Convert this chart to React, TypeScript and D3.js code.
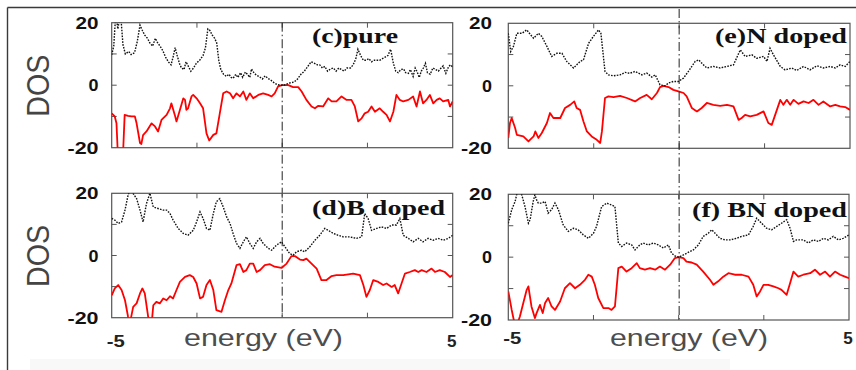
import React from 'react';
import * as d3 from 'd3';

type Pt = [number, number];

// (c) pure — spin up (black dotted) and spin down (red)
const pureUp: Pt[] = [[-5,9.7],[-4.94,12.5],[-4.88,23],[-4.82,18],[-4.74,23],[-4.67,13],[-4.6,10],[-4.5,10.8],[-4.43,9.8],[-4.33,10.4],[-4.25,14],[-4.17,19.2],[-4.1,17.5],[-4.03,16],[-3.95,15],[-3.88,13.5],[-3.8,12.5],[-3.72,15],[-3.65,13.5],[-3.58,12.5],[-3.5,11],[-3.42,9],[-3.34,7.5],[-3.26,6.5],[-3.2,9],[-3.14,12],[-3.08,9.5],[-3.0,6.5],[-2.95,5.5],[-2.88,5],[-2.82,7.5],[-2.75,6],[-2.68,4.5],[-2.6,5.5],[-2.52,7],[-2.42,8],[-2.32,9.5],[-2.25,12],[-2.18,18],[-2.12,17.5],[-2.05,16],[-1.98,15],[-1.92,13.5],[-1.86,8],[-1.8,5],[-1.72,3.5],[-1.64,2.8],[-1.56,3.5],[-1.5,2.5],[-1.44,2.2],[-1.36,3.5],[-1.3,2.5],[-1.22,4],[-1.16,2.5],[-1.08,4.2],[-1.02,3.5],[-0.95,2.5],[-0.9,5.2],[-0.82,3.8],[-0.75,3.2],[-0.68,2.8],[-0.58,2],[-0.5,3],[-0.42,2.2],[-0.32,1.5],[-0.24,0.8],[-0.15,0.2],[-0.05,0],[0.05,0],[0.15,0.4],[0.25,0.8],[0.35,1],[0.45,2],[0.55,3.5],[0.65,4.5],[0.75,6],[0.85,7.5],[0.95,7],[1.03,6.5],[1.1,6.5],[1.18,5.5],[1.25,6],[1.33,4.5],[1.42,5.2],[1.5,5.5],[1.58,4.5],[1.66,5.5],[1.74,5],[1.82,4.5],[1.9,5.5],[2.0,5.5],[2.08,6.5],[2.16,8.5],[2.22,11.5],[2.3,9.5],[2.38,8],[2.46,8],[2.54,8.5],[2.62,7.5],[2.7,8],[2.78,8],[2.86,8],[2.94,8.5],[3.02,9],[3.1,9.5],[3.18,11.5],[3.26,7],[3.33,4.5],[3.4,4],[3.48,5],[3.56,5.2],[3.62,4],[3.7,3.8],[3.76,5],[3.84,2.8],[3.9,5.5],[3.96,4.2],[4.02,2.5],[4.08,4.5],[4.14,5.5],[4.2,7],[4.26,4],[4.34,3.5],[4.42,5.5],[4.5,5],[4.58,4.5],[4.66,5.5],[4.72,6.2],[4.8,3.8],[4.88,6],[4.94,6.5],[5,5.8]];
const pureDown: Pt[] = [[-5,-9],[-4.91,-10],[-4.86,-12.2],[-4.82,-22],[-4.72,-22],[-4.66,-20],[-4.62,-9.5],[-4.52,-9.8],[-4.42,-10],[-4.32,-10],[-4.27,-12.2],[-4.17,-18.5],[-4.13,-18.8],[-4.08,-16],[-3.98,-14.8],[-3.83,-12.2],[-3.73,-13.2],[-3.64,-14.8],[-3.54,-11.1],[-3.39,-9.5],[-3.29,-7.4],[-3.25,-5.8],[-3.15,-9.5],[-3.1,-11.6],[-3.0,-7.9],[-2.9,-4.2],[-2.85,-4.7],[-2.81,-7.9],[-2.76,-7.4],[-2.66,-3.6],[-2.61,-3.1],[-2.51,-4.2],[-2.41,-5.8],[-2.32,-7.4],[-2.22,-15.4],[-2.14,-17.7],[-2.02,-15.9],[-1.93,-15.4],[-1.83,-9],[-1.73,-2.6],[-1.63,-2],[-1.53,-2.6],[-1.44,-4.2],[-1.34,-2.6],[-1.24,-3.6],[-1.14,-2],[-1.05,-4.7],[-0.95,-2.6],[-0.85,-4.2],[-0.7,-3.1],[-0.56,-2.6],[-0.41,-3.1],[-0.31,-3.6],[-0.22,-2.6],[-0.12,-0.4],[0,0],[0.18,0],[0.32,-0.6],[0.47,-0.6],[0.57,-2],[0.71,-4.7],[0.86,-6.8],[0.96,-7.4],[1.06,-6.6],[1.2,-6.8],[1.35,-4.2],[1.45,-5.2],[1.59,-5.2],[1.74,-3.6],[1.89,-4.7],[2.03,-4.7],[2.13,-6.8],[2.23,-11.6],[2.33,-10.6],[2.42,-9],[2.52,-8.5],[2.62,-6.8],[2.72,-8.5],[2.86,-7.4],[2.96,-8.5],[3.06,-9.5],[3.16,-11.6],[3.26,-8.5],[3.35,-3.1],[3.45,-4.7],[3.55,-5.2],[3.7,-4.7],[3.84,-3.6],[3.94,-6.8],[4.04,-2],[4.13,-5.8],[4.23,-4.7],[4.33,-3.1],[4.43,-5.8],[4.53,-4.7],[4.62,-4.2],[4.72,-5.2],[4.87,-4.7],[4.92,-6.8],[5,-5.2]];

// (e) N doped
const nUp: Pt[] = [[-5,16.8],[-4.93,11],[-4.85,12.6],[-4.75,16.8],[-4.6,16.8],[-4.46,17.9],[-4.36,16.5],[-4.26,15.2],[-4.12,16.8],[-4.02,15.8],[-3.87,12.6],[-3.73,9.4],[-3.58,10.4],[-3.43,10.4],[-3.29,7.8],[-3.09,5.7],[-2.9,7.8],[-2.8,8.3],[-2.65,13.6],[-2.51,15.8],[-2.36,17.9],[-2.29,16.8],[-2.17,4.6],[-2.07,3.5],[-1.92,3.2],[-1.73,3.5],[-1.58,4.3],[-1.45,4.0],[-1.29,4.6],[-1.09,3.5],[-0.95,4.1],[-0.8,2.8],[-0.7,3.5],[-0.56,0.3],[-0.41,0],[-0.31,0.9],[-0.17,1.4],[-0.02,1.4],[0.13,2.5],[0.27,4.6],[0.47,7.8],[0.57,8.3],[0.71,6.7],[0.81,5.7],[1.0,6.2],[1.2,5.7],[1.4,6.2],[1.59,6.7],[1.79,11.5],[1.93,9.4],[2.13,9.9],[2.27,8.8],[2.47,9.4],[2.57,7.8],[2.66,12],[2.76,9.9],[2.96,6.2],[3.1,5.1],[3.3,5.7],[3.44,4.9],[3.64,6.2],[3.83,5.1],[4.03,6.4],[4.22,5.7],[4.42,6.2],[4.57,5.7],[4.71,6.7],[4.86,6.2],[5,7.8]];
const nDown: Pt[] = [[-5,-16.7],[-4.95,-11.9],[-4.9,-10.3],[-4.8,-13.5],[-4.75,-15.7],[-4.56,-16.2],[-4.41,-17.8],[-4.26,-16.2],[-4.21,-14.6],[-4.12,-16.7],[-4.02,-15.1],[-3.87,-11.9],[-3.78,-8.7],[-3.68,-10.3],[-3.48,-10.3],[-3.34,-7.1],[-3.19,-6.1],[-3.07,-5.0],[-3.0,-7.1],[-2.9,-7.7],[-2.8,-11.4],[-2.7,-14.6],[-2.56,-16.2],[-2.41,-17.3],[-2.31,-18.3],[-2.26,-14.6],[-2.17,-3.9],[-2.07,-3.4],[-1.92,-3.6],[-1.73,-3.2],[-1.53,-3.9],[-1.29,-5.0],[-1.14,-3.9],[-0.95,-2.9],[-0.8,-4.3],[-0.65,-2.3],[-0.56,-0.4],[-0.46,0],[-0.31,-0.4],[-0.17,-1.3],[-0.02,-1.8],[0.13,-2.3],[0.22,-3.4],[0.37,-7.1],[0.52,-8.2],[0.66,-7.1],[0.81,-5.5],[1.0,-6.1],[1.2,-6.4],[1.4,-6.1],[1.59,-6.6],[1.74,-10.9],[1.83,-10.3],[1.93,-9.3],[2.08,-9.8],[2.27,-9.3],[2.47,-8.2],[2.61,-11.9],[2.71,-12.5],[2.81,-9.3],[2.96,-4.5],[3.05,-6.1],[3.15,-4.5],[3.25,-6.1],[3.35,-4.5],[3.49,-5.8],[3.64,-5.0],[3.79,-5.5],[3.93,-4.5],[4.08,-6.1],[4.22,-5.0],[4.42,-6.6],[4.57,-6.1],[4.71,-6.6],[4.86,-6.8],[5,-7.7]];

// (d) B doped
const bUp: Pt[] = [[-5,11.9],[-4.91,11.4],[-4.81,10.3],[-4.71,10.8],[-4.61,14.6],[-4.52,19.4],[-4.47,21],[-4.37,19.9],[-4.27,18.3],[-4.17,14.6],[-4.08,10.8],[-3.98,16.7],[-3.88,20],[-3.78,15.6],[-3.64,15.1],[-3.49,14.6],[-3.39,14.6],[-3.29,13.5],[-3.2,11.4],[-3.05,8.7],[-2.9,7.1],[-2.76,6.5],[-2.61,8.1],[-2.51,10.8],[-2.41,14],[-2.32,11.9],[-2.22,8.7],[-2.12,8.1],[-2.02,13.5],[-1.93,17.3],[-1.83,18.3],[-1.73,15.6],[-1.63,12.4],[-1.53,10.3],[-1.44,7.1],[-1.34,3.9],[-1.24,2.3],[-1.14,4.4],[-1.05,6],[-0.95,3.9],[-0.85,2.3],[-0.75,4.4],[-0.65,5.5],[-0.56,3.9],[-0.41,2.3],[-0.31,1.7],[-0.17,3.3],[-0.02,4.4],[0.08,2.8],[0.22,0.6],[0.32,0.1],[0.42,1.2],[0.57,1.7],[0.66,1.2],[0.81,2.8],[0.96,4.9],[1.1,6.5],[1.25,8.7],[1.35,8.1],[1.5,7.1],[1.64,6.5],[1.79,6],[1.98,6],[2.18,5.5],[2.33,6],[2.42,13.5],[2.52,11.9],[2.62,8.1],[2.77,8.7],[2.91,9.2],[3.06,8.7],[3.21,9.8],[3.35,9.8],[3.45,11.9],[3.55,6.5],[3.7,5.5],[3.84,4.4],[3.99,5.5],[4.13,4.4],[4.28,5.5],[4.43,4.9],[4.57,5.5],[4.72,4.9],[4.87,5.5],[5,6.5]];
const bDown: Pt[] = [[-5,-12.8],[-4.91,-10.6],[-4.81,-9.5],[-4.71,-11.1],[-4.61,-14.4],[-4.52,-19.7],[-4.47,-22],[-4.37,-16.5],[-4.27,-15.4],[-4.17,-12.2],[-4.1,-10.6],[-4.03,-12.2],[-3.93,-19.7],[-3.83,-22],[-3.78,-16],[-3.69,-14.9],[-3.59,-15.4],[-3.49,-13.8],[-3.39,-14.4],[-3.29,-13.1],[-3.2,-13.8],[-3.1,-11.1],[-3.0,-8.5],[-2.85,-6.9],[-2.71,-6.3],[-2.61,-6.9],[-2.51,-9],[-2.41,-13.8],[-2.32,-13.3],[-2.22,-9.5],[-2.12,-7.9],[-2.02,-11.1],[-1.93,-17.6],[-1.78,-18.1],[-1.68,-14.4],[-1.58,-11.1],[-1.49,-9],[-1.34,-3.1],[-1.24,-2.8],[-1.14,-5.3],[-1.05,-4.7],[-0.95,-2.6],[-0.85,-2.6],[-0.75,-5.3],[-0.65,-4.7],[-0.51,-3.1],[-0.36,-2.8],[-0.22,-3.6],[-0.02,-4],[0.13,-2.6],[0.27,-0.2],[0.37,-0.2],[0.52,-1.3],[0.62,-1.5],[0.71,-1],[0.86,-2.6],[1.01,-4.2],[1.15,-7.9],[1.3,-7.9],[1.45,-6.6],[1.59,-6.3],[1.79,-6.3],[2.08,-5.8],[2.28,-6.3],[2.38,-9.5],[2.47,-13.3],[2.57,-11.1],[2.67,-7.9],[2.82,-8.5],[2.96,-9.5],[3.06,-9],[3.21,-10.1],[3.3,-9.5],[3.4,-12.2],[3.5,-9],[3.6,-5.8],[3.74,-5.3],[3.89,-4.7],[3.99,-5.3],[4.09,-4.7],[4.23,-5.3],[4.38,-4.2],[4.48,-5.3],[4.62,-4.7],[4.77,-5.3],[4.92,-6.9],[5,-6.3]];

// (f) BN doped
const bnUp: Pt[] = [[-5,10.8],[-4.9,15.1],[-4.8,17.7],[-4.71,22],[-4.61,20],[-4.51,16.1],[-4.41,10.8],[-4.36,11.9],[-4.27,17.7],[-4.22,19.8],[-4.17,18.2],[-4.12,17.2],[-4.02,17.2],[-3.92,17.7],[-3.83,14],[-3.73,15.1],[-3.63,17.2],[-3.53,15.1],[-3.39,10.3],[-3.24,8.2],[-3.09,9.2],[-2.95,8.7],[-2.8,7.1],[-2.65,6],[-2.5,7.6],[-2.41,9.8],[-2.26,16.1],[-2.11,17.2],[-1.97,16.6],[-1.87,16.1],[-1.77,4.5],[-1.67,3.4],[-1.53,4.5],[-1.38,3.9],[-1.28,2.3],[-1.14,3.9],[-1.04,4.5],[-0.89,3.9],[-0.74,4.5],[-0.6,3.9],[-0.45,2.9],[-0.3,3.9],[-0.21,1.3],[-0.11,0.4],[0,0],[0.14,0.7],[0.28,1.5],[0.43,2.3],[0.58,3.9],[0.72,6.6],[0.87,7.6],[0.97,8.7],[1.07,7.6],[1.21,6],[1.36,5.5],[1.51,5.5],[1.7,6],[1.85,6.6],[2.05,7.1],[2.19,9.8],[2.29,12.4],[2.39,11.3],[2.58,9.2],[2.73,8.7],[2.88,9.8],[3.02,10.8],[3.17,11.9],[3.27,9.2],[3.37,5],[3.46,5.5],[3.66,5.5],[3.81,4.5],[3.95,5.5],[4.1,5],[4.25,6],[4.39,5.5],[4.54,6.6],[4.69,5.5],[4.83,6],[5,7.1]];
const bnDown: Pt[] = [[-5,-10.9],[-4.9,-16.8],[-4.8,-22],[-4.76,-22],[-4.66,-18.9],[-4.56,-14.6],[-4.46,-10.4],[-4.41,-9.3],[-4.32,-15.7],[-4.22,-19.4],[-4.17,-17.8],[-4.07,-15.2],[-3.99,-17.8],[-3.92,-14.6],[-3.83,-13],[-3.73,-15.7],[-3.63,-16.8],[-3.48,-14.1],[-3.34,-9.9],[-3.19,-8.3],[-3.04,-9.9],[-2.9,-8.8],[-2.75,-7.2],[-2.65,-5.6],[-2.55,-6.2],[-2.46,-8.8],[-2.36,-13],[-2.21,-16.2],[-2.06,-16.2],[-1.97,-16.8],[-1.87,-15.7],[-1.77,-3.5],[-1.67,-3],[-1.53,-4.6],[-1.38,-3.5],[-1.23,-1.9],[-1.14,-3.5],[-0.99,-4],[-0.84,-3.5],[-0.69,-4],[-0.55,-3],[-0.4,-4],[-0.25,-2.4],[-0.11,-0.3],[0,0],[0.14,-0.3],[0.23,-1.4],[0.38,-1.7],[0.53,-2.4],[0.72,-4.6],[0.92,-7.2],[1.02,-8.8],[1.16,-7.7],[1.31,-6.2],[1.46,-5.1],[1.65,-5.6],[1.85,-5.6],[2.05,-6.2],[2.19,-8.8],[2.29,-12.5],[2.39,-10.9],[2.49,-8.8],[2.63,-8.8],[2.78,-9.3],[2.93,-9.9],[3.02,-10.4],[3.17,-12],[3.27,-8.3],[3.37,-4.6],[3.51,-6.2],[3.66,-5.6],[3.86,-5.1],[4.0,-4],[4.15,-5.6],[4.3,-4.6],[4.44,-6.2],[4.59,-4.6],[4.74,-5.6],[4.88,-6.2],[5,-6.7]];

const panelLabels = ['(c)pure', '(e)N doped', '(d)B doped', '(f) BN doped'];
const yTickLabels = [20, 0, -20];
const yMinorTicks = [-10, 0, 10];
const xMinorTicks = [-2.5, 0, 2.5];
const xTickLabels = [-5, 5];
const xTitle = 'energy (eV)';
const yTitle = 'DOS';

const panels = [
  { up: pureUp, down: pureDown, x0: 111.7, x1: 452.7, y0: 22.7, y1: 147.7, lx: 312, lw: 86, ly: 43, ylx: 98.5, bottom: false, left: true, vTop: 22.7, vBot: 317.7 },
  { up: nUp, down: nDown, x0: 508.3, x1: 850, y0: 23.3, y1: 148.3, lx: 715, lw: 132, ly: 43, ylx: 492, bottom: false, left: false, vTop: 9, vBot: 320 },
  { up: bUp, down: bDown, x0: 111.7, x1: 452.7, y0: 193.3, y1: 317.7, lx: 312, lw: 133, ly: 215, ylx: 98.5, bottom: true, left: true, vTop: 0, vBot: 0 },
  { up: bnUp, down: bnDown, x0: 508.3, x1: 849, y0: 194.3, y1: 320, lx: 692, lw: 155, ly: 216.5, ylx: 492, bottom: true, left: false, vTop: 0, vBot: 0 },
];

const numW: Record<string, number> = { '20': 23, '0': 10, '-20': 31, '-5': 18, '5': 9.5 };

export default function App() {
  return (
    <svg width={856} height={370} style={{ position: 'absolute', left: 0, top: 0, background: '#fff' }}
      fontFamily="'Liberation Sans', Arial, sans-serif">
      <rect x={0} y={0} width={856} height={370} fill="#fff" />
      <rect x={30} y={359} width={700} height={11} fill="#f8f8f8" />
      <line x1={7.5} y1={7.5} x2={856} y2={7.5} stroke="#3a3a3a" strokeWidth={1.4} />
      <line x1={7.5} y1={7.5} x2={7.5} y2={370} stroke="#3a3a3a" strokeWidth={1.4} />
      {panels.map((p, i) => {
        const x = d3.scaleLinear().domain([-5, 5]).range([p.x0, p.x1]);
        const y = d3.scaleLinear().domain([-20, 20]).range([p.y1, p.y0]);
        const line = d3.line<Pt>().x(d => x(d[0])).y(d => y(d[1]));
        const cid = `clip${i}`;
        return (
          <g key={i}>
            <defs>
              <clipPath id={cid}>
                <rect x={p.x0} y={p.y0} width={p.x1 - p.x0} height={p.y1 - p.y0} />
              </clipPath>
            </defs>
            <rect x={p.x0} y={p.y0} width={p.x1 - p.x0} height={p.y1 - p.y0} fill="none" stroke="#555" strokeWidth={1.2} />
            {xMinorTicks.map(t => (
              <g key={'xt' + t}>
                <line x1={x(t)} x2={x(t)} y1={p.y0} y2={p.y0 + 5} stroke="#555" />
                <line x1={x(t)} x2={x(t)} y1={p.y1} y2={p.y1 - 5} stroke="#555" />
              </g>
            ))}
            {yMinorTicks.map(t => (
              <g key={'yt' + t}>
                <line x1={p.x0} x2={p.x0 + 5} y1={y(t)} y2={y(t)} stroke="#555" />
                <line x1={p.x1} x2={p.x1 - 5} y1={y(t)} y2={y(t)} stroke="#555" />
              </g>
            ))}
            <g clipPath={`url(#${cid})`}>
              <path d={line(p.down) || ''} fill="none" stroke="#ff0000" strokeWidth={1.8} strokeLinejoin="round" />
              <path d={line(p.up) || ''} fill="none" stroke="#111" strokeWidth={1.4} strokeDasharray="1.6 1.3" />
            </g>
            {p.vBot > p.vTop && (
              <line x1={x(0)} x2={x(0)} y1={p.vTop} y2={p.vBot} stroke="#222" strokeWidth={1} strokeDasharray="9 3 1.5 3" />
            )}
            {yTickLabels.map(t => (
              <text key={'yl' + t} x={p.ylx} y={y(t) + 6} textAnchor="end" fontSize={17} fontWeight="bold" fill="#111"
                textLength={numW[String(t)]} lengthAdjust="spacingAndGlyphs">{t}</text>
            ))}
            {p.bottom && xTickLabels.map(t => (
              <text key={'xl' + t} x={x(t) + (t < 0 ? 4 : -1)} y={p.left ? 347 : 344} textAnchor="middle" fontSize={17} fontWeight="bold" fill="#222"
                textLength={numW[String(t)]} lengthAdjust="spacingAndGlyphs">{t}</text>
            ))}
            {p.bottom && (
              <text x={p.left ? 184 : 610} y={346} fontSize={24} fill="#4d4d4d" textLength={p.left ? 159 : 158} lengthAdjust="spacingAndGlyphs">{xTitle}</text>
            )}
            {p.left && (
              <text transform={`translate(49,${(p.y0 + p.y1) / 2 + 0.5}) scale(1.12,1) rotate(-90)`} textAnchor="middle" fontSize={28} fill="#444"
                textLength={62} lengthAdjust="spacingAndGlyphs">{yTitle}</text>
            )}
            <text x={p.lx} y={p.ly} fontFamily="'Liberation Serif', 'Times New Roman', serif" fontSize={22} fontWeight="bold" fill="#111"
              textLength={p.lw} lengthAdjust="spacingAndGlyphs">{panelLabels[i]}</text>
          </g>
        );
      })}
    </svg>
  );
}
